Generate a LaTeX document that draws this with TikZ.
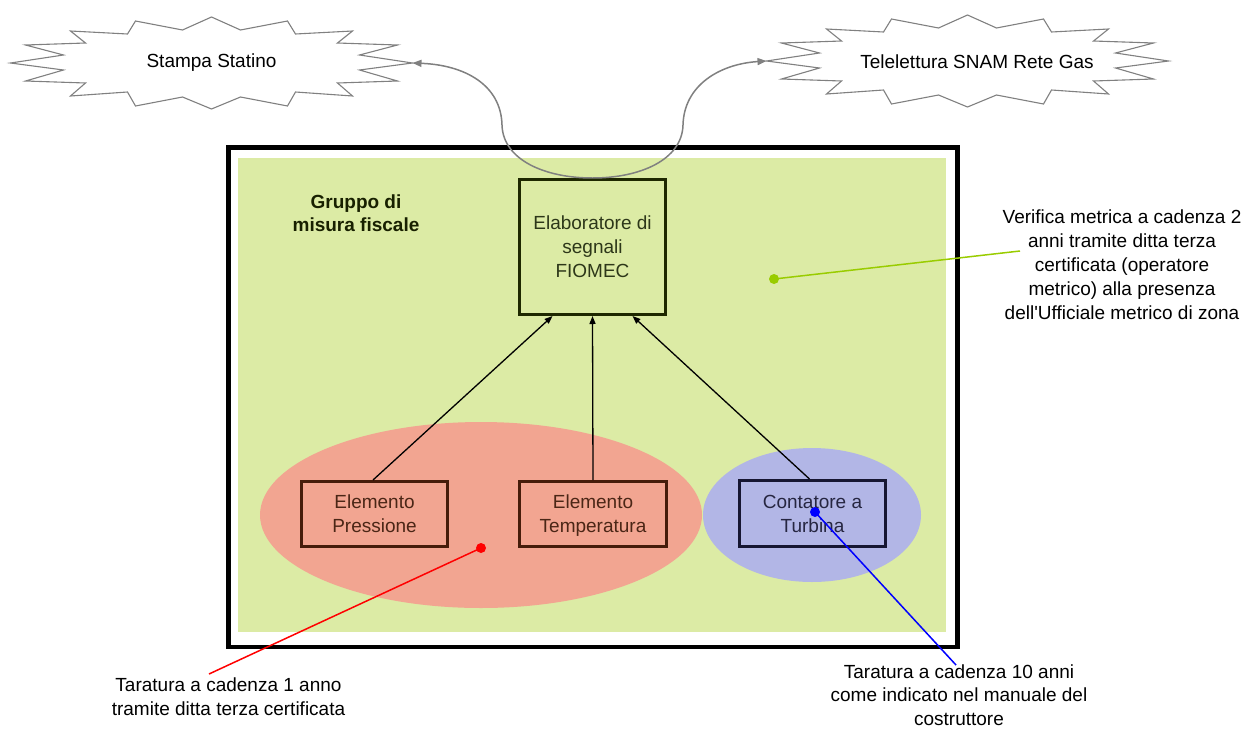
\documentclass[tikz,border=0pt]{standalone}
\usepackage{fontspec}
\setmainfont{Liberation Sans}
\usetikzlibrary{arrows.meta,calc}
\definecolor{areagreen}{RGB}{220,235,165}
\definecolor{ellred}{RGB}{242,165,145}
\definecolor{ellblue}{RGB}{178,182,230}
\definecolor{cloudgray}{RGB}{128,128,128}
\definecolor{olivedark}{RGB}{30,40,0}
\definecolor{browndark}{RGB}{70,28,10}
\definecolor{navydark}{RGB}{22,22,50}
\definecolor{olivetext}{RGB}{45,55,25}
\definecolor{browntext}{RGB}{75,38,22}
\definecolor{navytext}{RGB}{38,38,65}
\definecolor{calloutgreen}{RGB}{153,204,0}
\tikzset{
  txt/.style={font=\fontsize{19}{24}\selectfont, align=center, inner sep=0pt},
  boxnode/.style={draw, line width=3pt, inner sep=0pt, txt},
  cloudline/.style={draw=cloudgray, line width=1.1pt, fill=white, line join=miter},
  graycon/.style={draw=cloudgray, line width=1.5pt, -{Triangle[length=9pt,width=7pt]}},
  blackcon/.style={draw=black, line width=1.3pt, -{Triangle[length=8pt,width=6pt]}},
  dotnode/.style={circle, inner sep=0pt, minimum size=10pt},
}
\newcommand{\burstpath}{(-201,0) -- (-148,-8) -- (-186,-18) -- (-126,-20) -- (-141,-32) -- (-84,-29) -- (-76,-42) -- (-29,-33) -- (0,-46) -- (29,-33) -- (76,-42) -- (84,-29) -- (141,-32) -- (126,-20) -- (186,-18) -- (148,-8) -- (201,0) -- (148,7) -- (186,18) -- (126,20) -- (141,33) -- (84,29) -- (76,43) -- (29,34) -- (0,46) -- (-29,34) -- (-76,43) -- (-84,29) -- (-141,33) -- (-126,20) -- (-186,18) -- (-148,7) -- cycle}
\begin{document}
\begin{tikzpicture}[x=1pt,y=-1pt]
\useasboundingbox (0,0) rectangle (1247,728);
% clouds
\path[cloudline, shift={(211.5,63)}] \burstpath;
\path[cloudline, shift={(967.5,61)}] \burstpath;
\node[txt] (stampa) at (211.5,63) {Stampa Statino};
\node[txt] (tele) at (977,62) {Telelettura SNAM Rete Gas};
\coordinate (stR) at (412.5,63);
\coordinate (teL) at (766.5,61);
% measurement group area
\fill[areagreen] (238,158) rectangle (946,632);
\fill[ellred] (481,515) ellipse [x radius=221, y radius=93];
\fill[ellblue] (812,515) ellipse [x radius=109, y radius=67];
\draw[line width=4.5pt] (228.5,147.5) rectangle (957.5,647);
\node[txt, font=\fontsize{19}{23}\selectfont\bfseries, text=olivedark!80!black] (gruppo) at (356,213) {Gruppo di\\misura fiscale};
% boxes
\node[boxnode, draw=olivedark, text=olivetext, minimum width=146pt, minimum height=135pt] (fiomec) at (592.5,247) {Elaboratore di\\segnali\\FIOMEC};
\node[boxnode, draw=browndark, text=browntext, minimum width=146pt, minimum height=65pt] (pres) at (374.5,514) {Elemento\\Pressione};
\node[boxnode, draw=browndark, text=browntext, minimum width=147pt, minimum height=65pt] (temp) at (593,514) {Elemento\\\smash{Temperatura}};
\node[boxnode, draw=navydark, text=navytext, minimum width=146pt, minimum height=66pt] (cont) at (812.5,513.5) {Contatore a\\Turbina};
% arrows to FIOMEC
\draw[blackcon] ([xshift=-1.5pt]pres.north) -- ([xshift=-40pt]fiomec.south);
\draw[blackcon] (temp.north) -- (fiomec.south);
\draw[blackcon] ([xshift=-3pt]cont.north) -- ([xshift=40pt]fiomec.south);
% gray curves to clouds
\draw[graycon] (fiomec.north) .. controls (545,178) and (503,160) .. (502,125) .. controls (501,85) and (465,65) .. (stR);
\draw[graycon] (fiomec.north) .. controls (640,178) and (682,160) .. (683,125) .. controls (684,85) and (720,64) .. (teL);
% callouts
\node[txt] (verifica) at (1122,265) {Verifica metrica a cadenza 2\\anni tramite ditta terza\\certificata (operatore\\metrico) alla presenza\\dell\textquotesingle Ufficiale metrico di zona};
\node[dotnode, fill=calloutgreen] (gdot) at (774,279) {};
\coordinate (gend) at (1020,251);
\draw[calloutgreen, line width=1.5pt] (gdot.center) -- (gend);
\node[txt] (tar1) at (228.5,697) {Taratura a cadenza 1 anno\\tramite ditta terza certificata};
\node[dotnode, fill=red] (rdot) at (481,548) {};
\coordinate (rend) at (209,674);
\draw[red, line width=1.5pt] (rdot.center) -- (rend);
\node[txt, font=\fontsize{19}{23.5}\selectfont] (tar10) at (959,695) {Taratura a cadenza 10 anni\\come indicato nel manuale del\\costruttore};
\node[dotnode, fill=blue] (bdot) at (815,512) {};
\coordinate (bend) at (956,665);
\draw[blue, line width=1.5pt] (bdot.center) -- (bend);
\end{tikzpicture}
\end{document}
